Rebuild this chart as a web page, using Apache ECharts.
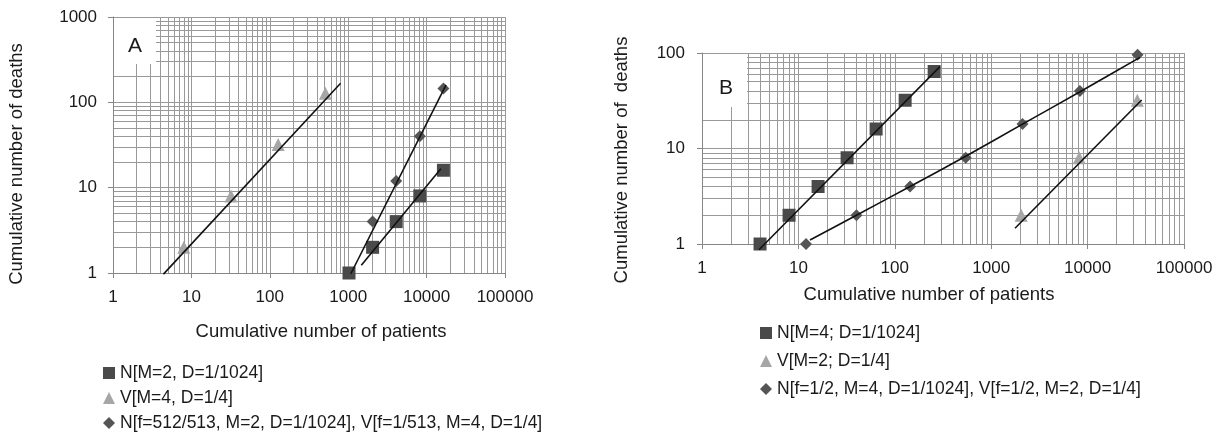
<!DOCTYPE html>
<html>
<head>
<meta charset="utf-8">
<script src="https://cdn.jsdelivr.net/npm/echarts@6/dist/echarts.min.js"></script>
<style>
html,body{margin:0;padding:0;background:#fff;}
#chart{width:1223px;height:433px;}
</style>
</head>
<body>
<div id="chart"></div>
<script>
// ---------- data ----------
const xTickValues = [1, 10, 100, 1000, 10000, 100000];
const xTickLabels = ['1', '10', '100', '1000', '10000', '100000'];
const yTickValuesA = [1, 10, 100, 1000];
const yTickLabelsA = ['1', '10', '100', '1000'];
const yTickValuesB = [1, 10, 100];
const yTickLabelsB = ['1', '10', '100'];

// Panel A
const nameA_N = 'N[M=2, D=1/1024]';
const nameA_V = 'V[M=4, D=1/4]';
const nameA_Mix = 'N[f=512/513, M=2, D=1/1024], V[f=1/513, M=4, D=1/4]';
const patientsA_N = [1024, 2048, 4096, 8192, 16384];
const deathsA_N = [1, 2, 4, 8, 16];
const patientsA_V = [8, 32, 128, 512];
const deathsA_V = [2, 8, 32, 128];
const patientsA_Mix = [2048, 4096, 8192, 16384];
const deathsA_Mix = [4, 12, 40, 145];
const trendA_N_x = [1470, 15200];
const trendA_N_y = [1.23, 16.7];
const trendA_V_x = [4.4, 800];
const trendA_V_y = [0.97, 167];
const trendA_Mix_x = [1080, 17700];
const trendA_Mix_y = [0.98, 160];

// Panel B
const nameB_N = 'N[M=4; D=1/1024]';
const nameB_V = 'V[M=2; D=1/4]';
const nameB_Mix = 'N[f=1/2, M=4, D=1/1024], V[f=1/2, M=2, D=1/4]';
const patientsB_N = [4, 8, 16, 32, 64, 128, 256];
const deathsB_N = [1, 2, 4, 8, 16, 32, 64];
const patientsB_V = [2048, 8192, 32768];
const deathsB_V = [2, 8, 32];
const patientsB_Mix = [12, 40, 144, 544, 2112, 8320, 33000];
const deathsB_Mix = [1, 2, 4, 8, 18, 40, 96];
const trendB_N_x = [3.9, 294];
const trendB_N_y = [0.87, 72];
const trendB_V_x = [1766, 36400];
const trendB_V_y = [1.46, 32.2];
const trendB_Mix_x = [13.2, 40, 144, 544, 2112, 8256, 35000];
const trendB_Mix_y = [1.1, 2, 4, 8.3, 18, 39, 90];

// ---------- helpers ----------
function zip(xs, ys) { return xs.map((x, i) => [x, ys[i]]); }
// exponents (log10) of the 1..9 x 10^k grid lines of a log plot
function logGridExponents(maxDecade) {
  const out = [];
  for (let k = 0; k < maxDecade; k++) {
    for (let m = 1; m <= 9; m++) out.push(k + Math.log10(m));
  }
  out.push(maxDecade);
  return out;
}
const gridX = logGridExponents(5);
const gridYA = logGridExponents(3);
const gridYB = logGridExponents(2);

const FONT = 'Liberation Sans, Arial, sans-serif';
const GRID_COLOR = '#999999';
const AXIS_COLOR = '#868686';
const SQ_COLOR = '#4a4a4a';
const TRI_COLOR = '#a6a6a6';
const DIA_COLOR = '#555555';
const LINE_COLOR = '#111111';
const TEXT_COLOR = '#1a1a1a';

// hidden linear axis in log10 units that only draws the grid lines
function gridAxis(gridIndex, pos, maxExp, values) {
  return {
    type: 'value', gridIndex: gridIndex, position: pos, min: 0, max: maxExp,
    axisLine: { show: false },
    axisTick: { show: false, customValues: values },
    axisLabel: { show: false, customValues: values },
    splitLine: { show: true, lineStyle: { color: GRID_COLOR, width: 1 } }
  };
}
function labelAxis(gridIndex, pos, maxV, tickValues, tickLabels, margin) {
  return {
    type: 'log', logBase: 10, gridIndex: gridIndex, position: pos, min: 1, max: maxV,
    axisLine: { show: true, lineStyle: { color: AXIS_COLOR, width: 1 } },
    axisTick: { show: true, length: 5, inside: false, lineStyle: { color: AXIS_COLOR } },
    axisLabel: {
      show: true, margin: margin,
      color: TEXT_COLOR, fontFamily: FONT, fontSize: 17,
      formatter: function (v) {
        const i = tickValues.findIndex(t => Math.abs(t - v) / t < 1e-6);
        return i >= 0 ? tickLabels[i] : '';
      }
    },
    splitLine: { show: false },
    minorTick: { show: false },
    minorSplitLine: { show: false }
  };
}

function scatter(name, xi, yi, data, symbol, size, color) {
  return {
    name: name, type: 'scatter', xAxisIndex: xi, yAxisIndex: yi,
    data: data, symbol: symbol, symbolSize: size,
    itemStyle: { color: color, opacity: 1 }, z: 4
  };
}
function trend(xi, yi, data, smooth) {
  return {
    type: 'line', xAxisIndex: xi, yAxisIndex: yi, data: data,
    showSymbol: false, symbol: 'none', smooth: smooth || false, clip: false,
    lineStyle: { color: LINE_COLOR, width: 1.6 }, z: 5, silent: true
  };
}

const option = {
  animation: false,
  backgroundColor: '#ffffff',
  grid: [
    { left: 113, top: 17, width: 392, height: 256, containLabel: false },
    { left: 702, top: 53, width: 482, height: 191, containLabel: false }
  ],
  xAxis: [
    gridAxis(0, 'bottom', 5, gridX),
    labelAxis(0, 'bottom', 100000, xTickValues, xTickLabels, 16),
    gridAxis(1, 'bottom', 5, gridX),
    labelAxis(1, 'bottom', 100000, xTickValues, xTickLabels, 16)
  ],
  yAxis: [
    gridAxis(0, 'left', 3, gridYA),
    labelAxis(0, 'left', 1000, yTickValuesA, yTickLabelsA, 16),
    gridAxis(1, 'left', 2, gridYB),
    labelAxis(1, 'left', 100, yTickValuesB, yTickLabelsB, 17)
  ],
  legend: [
    {
      orient: 'vertical', left: 103, top: 364, padding: 0, itemWidth: 12, itemHeight: 12, itemGap: 7,
      data: [nameA_N, nameA_V, nameA_Mix],
      textStyle: { fontFamily: FONT, fontSize: 17.5, color: TEXT_COLOR },
      selectedMode: false
    },
    {
      orient: 'vertical', left: 760, top: 324, padding: 0, itemWidth: 12, itemHeight: 12, itemGap: 10,
      data: [nameB_N, nameB_V, nameB_Mix],
      textStyle: { fontFamily: FONT, fontSize: 17.5, color: TEXT_COLOR },
      selectedMode: false
    }
  ],
  graphic: [
    { type: 'rect', z: 1, shape: { x: 114, y: 18, width: 42, height: 46 }, style: { fill: '#ffffff' }, silent: true },
    { type: 'text', z: 3, x: 135, y: 46, style: { text: 'A', fontFamily: FONT, fontSize: 21, fill: TEXT_COLOR, align: 'center', verticalAlign: 'middle' } },
    { type: 'rect', z: 1, shape: { x: 703, y: 54, width: 44, height: 53 }, style: { fill: '#ffffff' }, silent: true },
    { type: 'text', z: 3, x: 726, y: 88, style: { text: 'B', fontFamily: FONT, fontSize: 21, fill: TEXT_COLOR, align: 'center', verticalAlign: 'middle' } },
    { type: 'text', x: 321, y: 332, style: { text: 'Cumulative number of patients', fontFamily: FONT, fontSize: 18.5, fill: TEXT_COLOR, align: 'center', verticalAlign: 'middle' } },
    { type: 'text', x: 17, y: 164, rotation: Math.PI / 2, style: { text: 'Cumulative number of deaths', fontFamily: FONT, fontSize: 18.5, fill: TEXT_COLOR, align: 'center', verticalAlign: 'middle' } },
    { type: 'text', x: 929, y: 295, style: { text: 'Cumulative number of patients', fontFamily: FONT, fontSize: 18.5, fill: TEXT_COLOR, align: 'center', verticalAlign: 'middle' } },
    { type: 'text', x: 622, y: 160, rotation: Math.PI / 2, style: { text: 'Cumulative number of  deaths', fontFamily: FONT, fontSize: 18.5, fill: TEXT_COLOR, align: 'center', verticalAlign: 'middle' } }
  ],
  series: [
    scatter(nameA_N, 1, 1, zip(patientsA_N, deathsA_N), 'rect', 13, SQ_COLOR),
    scatter(nameA_V, 1, 1, zip(patientsA_V, deathsA_V), 'triangle', 13, TRI_COLOR),
    scatter(nameA_Mix, 1, 1, zip(patientsA_Mix, deathsA_Mix), 'diamond', 12, DIA_COLOR),
    trend(1, 1, zip(trendA_N_x, trendA_N_y)),
    trend(1, 1, zip(trendA_V_x, trendA_V_y)),
    trend(1, 1, zip(trendA_Mix_x, trendA_Mix_y)),
    scatter(nameB_N, 3, 3, zip(patientsB_N, deathsB_N), 'rect', 13, SQ_COLOR),
    scatter(nameB_V, 3, 3, zip(patientsB_V, deathsB_V), 'triangle', 13, TRI_COLOR),
    scatter(nameB_Mix, 3, 3, zip(patientsB_Mix, deathsB_Mix), 'diamond', 12, DIA_COLOR),
    trend(3, 3, zip(trendB_N_x, trendB_N_y)),
    trend(3, 3, zip(trendB_V_x, trendB_V_y)),
    trend(3, 3, zip(trendB_Mix_x, trendB_Mix_y), 0.3)
  ]
};

const chart = echarts.init(document.getElementById('chart'), null, { renderer: 'canvas' });
chart.setOption(option);
</script>
</body>
</html>
